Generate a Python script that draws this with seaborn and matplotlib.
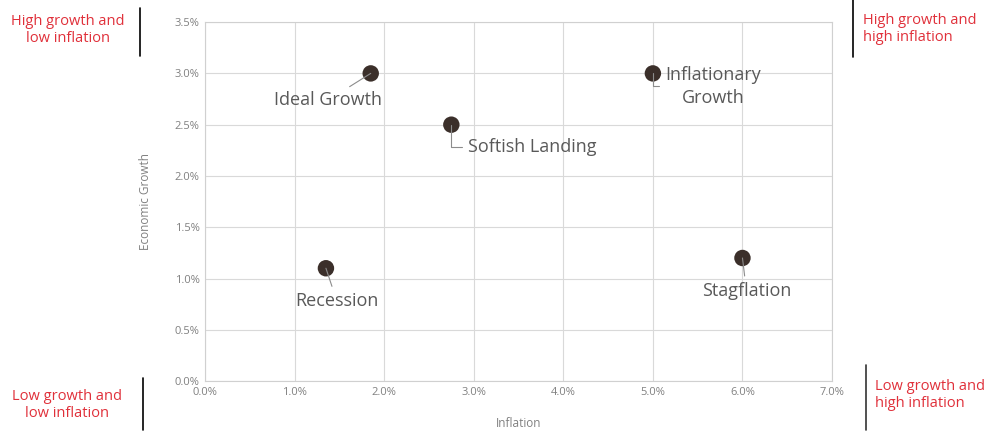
import matplotlib
matplotlib.use("Agg")
import matplotlib.pyplot as plt
import seaborn as sns
import pandas as pd
from matplotlib.ticker import FuncFormatter, MultipleLocator

scenarios = ["Ideal Growth", "Softish Landing", "Inflationary\nGrowth", "Recession", "Stagflation"]
inflation = [1.85, 2.75, 5.0, 1.35, 6.0]
growth = [3.0, 2.5, 3.0, 1.1, 1.2]
label_offsets = [(-43, -27), (17, -22), (60, -13), (11, -33), (4, -33)]
label_ha = ["center", "left", "center", "center", "center"]
connectors = ["arc3", "angle,angleA=0,angleB=90,rad=0", "angle,angleA=0,angleB=90,rad=0",
              "arc3", "arc3"]

sns.set_theme(style="whitegrid")
plt.rcParams['font.family'] = ['Open Sans', 'DejaVu Sans']

df = pd.DataFrame({"Inflation": inflation, "Growth": growth, "Scenario": scenarios})

fig = plt.figure(figsize=(9.87, 4.34), dpi=100)
ax = fig.add_axes([0.2077, 0.122, 0.6353, 0.827])

sns.scatterplot(data=df, x="Inflation", y="Growth", ax=ax, s=140, color="#3b2f2a",
                edgecolor="none", zorder=3)

for name, x, y, off, ha, cs in zip(scenarios, inflation, growth, label_offsets, label_ha, connectors):
    ax.annotate(name, xy=(x, y), xytext=off, textcoords="offset pixels",
                ha=ha, va="center", fontsize=13, color="#595959", linespacing=1.35,
                arrowprops=dict(arrowstyle="-", color="#8c8c8c", lw=0.8,
                                shrinkA=2, shrinkB=0, connectionstyle=cs))

ax.set_xlim(0, 7)
ax.set_ylim(0, 3.5)
ax.xaxis.set_major_locator(MultipleLocator(1))
ax.yaxis.set_major_locator(MultipleLocator(0.5))
ax.xaxis.set_major_formatter(FuncFormatter(lambda v, p: f"{v:.1f}%"))
ax.yaxis.set_major_formatter(FuncFormatter(lambda v, p: f"{v:.1f}%"))
ax.tick_params(axis="both", labelsize=8, colors="#808080", length=0, pad=4)
ax.grid(True, color="#d9d9d9", lw=0.8)
for s in ax.spines.values():
    s.set_color("#d0d0d0")
    s.set_linewidth(0.8)
ax.set_xlabel("Inflation", fontsize=8.5, color="#808080", labelpad=14)
ax.set_ylabel("Economic Growth", fontsize=8.5, color="#808080", labelpad=16)

red = "#e0303a"
fig.text(68 / 987, 1 - 30 / 434, "High growth and\nlow inflation", ha="center", va="center",
         fontsize=10.5, color=red, linespacing=1.2)
fig.text(863 / 987, 1 - 29 / 434, "High growth and\nhigh inflation", ha="left", va="center",
         fontsize=10.5, color=red, linespacing=1.2)
fig.text(67 / 987, 1 - 405 / 434, "Low growth and\nlow inflation", ha="center", va="center",
         fontsize=10.5, color=red, linespacing=1.2)
fig.text(875 / 987, 1 - 395 / 434, "Low growth and\nhigh inflation", ha="left", va="center",
         fontsize=10.5, color=red, linespacing=1.2)

def vbar(xp, y0, y1, color="black"):
    fig.add_artist(plt.Line2D([xp / 987, xp / 987], [1 - y0 / 434, 1 - y1 / 434],
                              color=color, lw=1.2, transform=fig.transFigure))

vbar(140, 8, 56)
vbar(853, 0, 57)
vbar(143, 378, 430)
vbar(866, 365, 430, color="#333333")

fig.savefig("out.png", dpi=100)
